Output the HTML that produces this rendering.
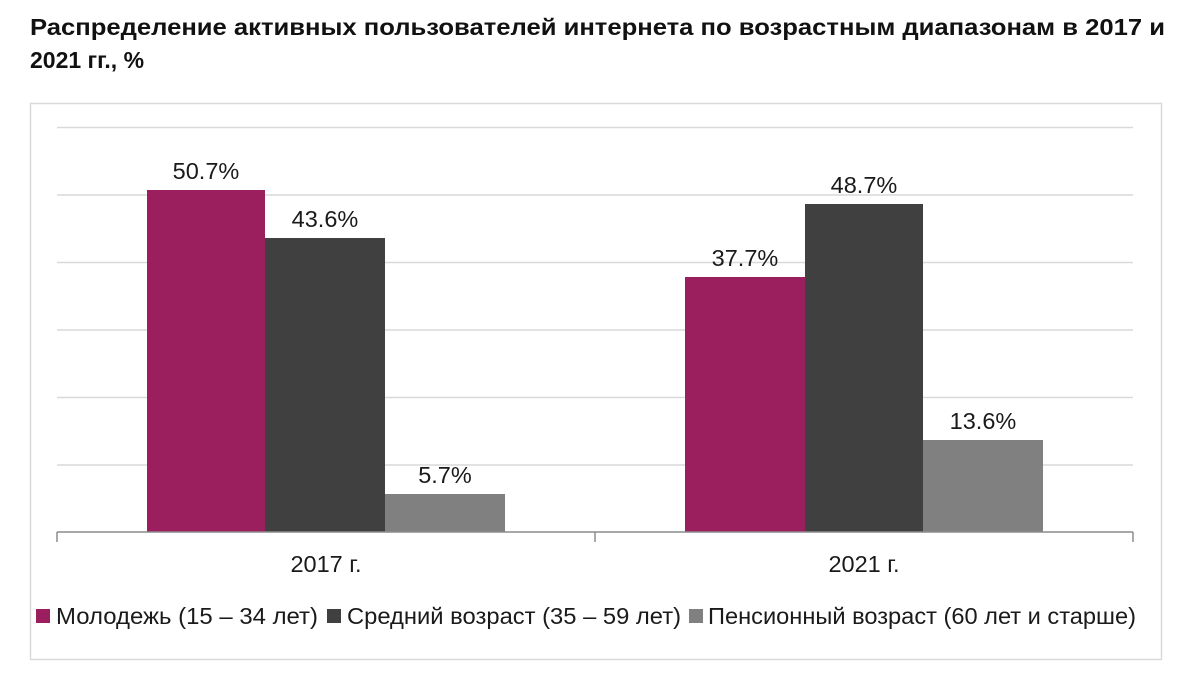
<!DOCTYPE html>
<html><head><meta charset="utf-8"><style>
body{margin:0;background:#fff;width:1200px;height:674px;overflow:hidden;font-family:"Liberation Sans",sans-serif}
</style></head><body>
<svg width="1200" height="674" xmlns="http://www.w3.org/2000/svg" font-family="Liberation Sans, sans-serif">
<text x="30" y="35" font-size="23" font-weight="bold" fill="#111" textLength="1135" lengthAdjust="spacingAndGlyphs">Распределение активных пользователей интернета по возрастным диапазонам в 2017 и</text>
<text x="30" y="68" font-size="23" font-weight="bold" fill="#111">2021 гг., %</text>
<rect x="30.5" y="103.5" width="1131" height="556" fill="none" stroke="#d9d9d9" stroke-width="1.5"/>
<g stroke="#d9d9d9" stroke-width="1.5">
<line x1="57" x2="1133" y1="127.5" y2="127.5"/>
<line x1="57" x2="1133" y1="195" y2="195"/>
<line x1="57" x2="1133" y1="262.5" y2="262.5"/>
<line x1="57" x2="1133" y1="330" y2="330"/>
<line x1="57" x2="1133" y1="397.5" y2="397.5"/>
<line x1="57" x2="1133" y1="465" y2="465"/>
</g>
<rect x="147" y="190" width="118" height="342" fill="#9b1e5e"/>
<rect x="265" y="238" width="120" height="294" fill="#404040"/>
<rect x="385" y="494" width="120" height="38" fill="#808080"/>
<rect x="685" y="277" width="120" height="255" fill="#9b1e5e"/>
<rect x="805" y="204" width="118" height="328" fill="#404040"/>
<rect x="923" y="440" width="120" height="92" fill="#808080"/>
<g stroke="#8c8c8c" stroke-width="1.5">
<line x1="57" x2="1133" y1="532" y2="532"/>
<line x1="57" x2="57" y1="532" y2="542"/>
<line x1="595" x2="595" y1="532" y2="542"/>
<line x1="1133" x2="1133" y1="532" y2="542"/>
</g>
<g font-size="23.5" fill="#1a1a1a" text-anchor="middle">
<text x="206" y="179">50.7%</text>
<text x="325" y="227">43.6%</text>
<text x="445" y="483">5.7%</text>
<text x="745" y="266">37.7%</text>
<text x="864" y="193">48.7%</text>
<text x="983" y="429">13.6%</text>
<text x="326" y="572">2017 г.</text>
<text x="864" y="572">2021 г.</text>
</g>
<g font-size="23.5" fill="#1a1a1a">
<rect x="36" y="609" width="14" height="14" fill="#9b1e5e"/>
<text x="56" y="624" textLength="262" lengthAdjust="spacingAndGlyphs">Молодежь (15 – 34 лет)</text>
<rect x="327" y="609" width="14" height="14" fill="#404040"/>
<text x="347" y="624" textLength="334" lengthAdjust="spacingAndGlyphs">Средний возраст (35 – 59 лет)</text>
<rect x="689" y="609" width="14" height="14" fill="#808080"/>
<text x="708" y="624" textLength="428" lengthAdjust="spacingAndGlyphs">Пенсионный возраст (60 лет и старше)</text>
</g>
</svg>
</body></html>
